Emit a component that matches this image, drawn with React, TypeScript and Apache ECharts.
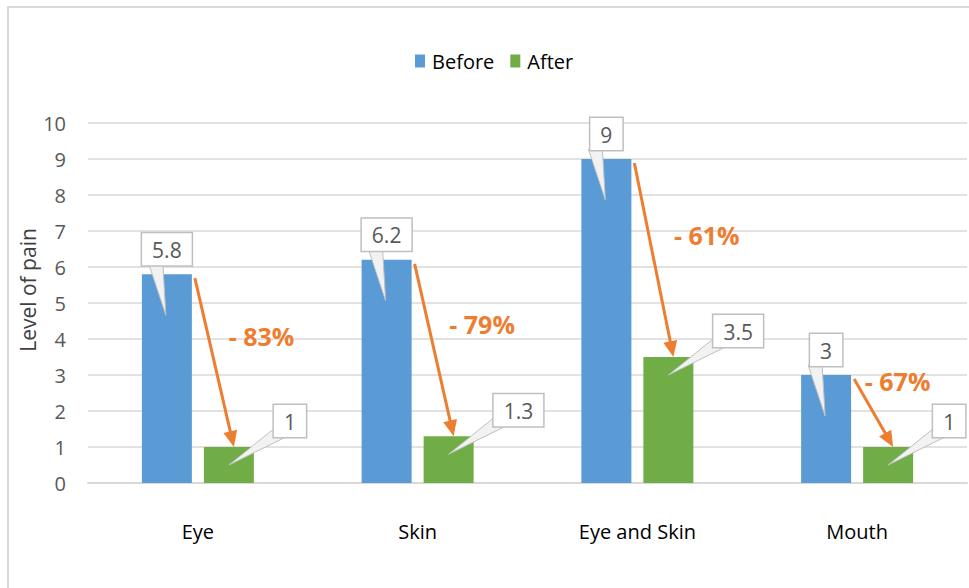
import React, { useEffect, useRef } from "react";
import * as echarts from "echarts";

const categories = ["Eye", "Skin", "Eye and Skin", "Mouth"];
const beforeValues = [5.8, 6.2, 9, 3];
const afterValues = [1, 1.3, 3.5, 1];
const yTicks = [0, 1, 2, 3, 4, 5, 6, 7, 8, 9, 10];

const BLUE = "#5B9BD5";
const GREEN = "#70AD47";
const ORANGE = "#ED7D31";
const FONT = "'Open Sans', sans-serif";

export default function App() {
  const ref = useRef<HTMLDivElement>(null);
  useEffect(() => {
    if (!ref.current) return;
    const chart = echarts.init(ref.current, null, { renderer: "svg" });
    const barW = 50;
    const half = 31;

    const renderItem = (params: any, api: any) => {
      const i = api.value(0);
      const b = api.value(1);
      const a = api.value(2);
      const base = api.coord([i, 0]);
      const c = base[0];
      const yb = api.coord([i, b])[1];
      const ya = api.coord([i, a])[1];
      const bx = c - half;
      const ax = c + half;
      const children: any[] = [];

      // arrow
      const sx = bx + barW / 2 + 3;
      const sy = yb + 4;
      const ex = ax + 5;
      const ey = ya;
      const dx = ex - sx;
      const dy = ey - sy;
      const len = Math.sqrt(dx * dx + dy * dy);
      const ux = dx / len;
      const uy = dy / len;
      const headL = 16;
      const headW = 7;
      const hx = ex - ux * headL;
      const hy = ey - uy * headL;
      children.push({
        type: "line",
        shape: { x1: sx, y1: sy, x2: hx + ux * 2, y2: hy + uy * 2 },
        style: { stroke: ORANGE, lineWidth: 3 },
      });
      children.push({
        type: "polygon",
        shape: {
          points: [
            [ex, ey],
            [hx - uy * headW, hy + ux * headW],
            [hx + uy * headW, hy - ux * headW],
          ],
        },
        style: { fill: ORANGE },
      });
      const pct = Math.round(((a - b) / b) * 100);
      children.push({
        type: "text",
        style: {
          text: "- " + Math.abs(pct) + "%",
          x: sx + 0.23 * dy - 5,
          y: sy + dy * 0.55 - 35,
          align: "left",
          verticalAlign: "middle",
          fontSize: 25,
          fontWeight: "bold",
          fontFamily: FONT,
          fill: ORANGE,
        },
      });

      // before callout
      const bBoxBottom = yb - 9;
      children.push({
        type: "polygon",
        shape: {
          points: [
            [bx - 18, bBoxBottom - 1],
            [bx - 4, bBoxBottom - 1],
            [bx - 1, yb + 41],
          ],
        },
        style: { fill: "#f2f2f2", stroke: "#bfbfbf", lineWidth: 1 },
      });
      children.push({
        type: "text",
        style: {
          text: String(b),
          x: bx,
          y: bBoxBottom,
          align: "center",
          verticalAlign: "bottom",
          fontSize: 21,
          fontFamily: FONT,
          fill: "#595959",
          backgroundColor: "#ffffff",
          borderColor: "#bfbfbf",
          borderWidth: 1.5,
          padding: [6, 10, 5, 10],
        },
      });

      // after callout
      const aBoxBottom = ya - 10;
      const aBoxLeft = ax + 45;
      children.push({
        type: "polygon",
        shape: {
          points: [
            [aBoxLeft + 1, aBoxBottom - 9],
            [aBoxLeft + 14, aBoxBottom - 1],
            [ax, ya + 18],
          ],
        },
        style: { fill: "#f2f2f2", stroke: "#bfbfbf", lineWidth: 1 },
      });
      children.push({
        type: "text",
        style: {
          text: String(a),
          x: aBoxLeft,
          y: aBoxBottom,
          align: "left",
          verticalAlign: "bottom",
          fontSize: 21,
          fontFamily: FONT,
          fill: "#595959",
          backgroundColor: "#ffffff",
          borderColor: "#bfbfbf",
          borderWidth: 1.5,
          padding: [6, 10, 5, 10],
        },
      });

      return { type: "group", children };
    };

    chart.setOption({
      animation: false,
      backgroundColor: "#ffffff",
      textStyle: { fontFamily: FONT },
      graphic: [
        {
          type: "rect",
          shape: { x: 8, y: 7, width: 1000, height: 640 },
          style: { fill: "none", stroke: "#d9d9d9", lineWidth: 2 },
          silent: true,
          z: -10,
        },
      ],
      legend: {
        data: ["Before", "After"],
        left: 410,
        top: 46,
        itemWidth: 10,
        itemHeight: 13,
        itemGap: 16,
        icon: "rect",
        textStyle: { fontSize: 20, color: "#000", fontFamily: FONT, padding: [0, 0, 0, 2] },
      },
      grid: { left: 88, right: 2, top: 123, bottom: 105 },
      xAxis: {
        type: "category",
        data: categories,
        axisLine: { lineStyle: { color: "#d9d9d9", width: 2 } },
        axisTick: { show: false },
        axisLabel: { margin: 38, fontSize: 20, color: "#000", fontFamily: FONT },
      },
      yAxis: {
        type: "value",
        min: yTicks[0],
        max: yTicks[yTicks.length - 1],
        interval: 1,
        name: "Level of pain",
        nameLocation: "middle",
        nameGap: 50,
        nameMoveOverlap: false,
        nameTextStyle: { fontSize: 21, color: "#404040", fontFamily: FONT, padding: [0, 0, 0, 26] },
        axisLine: { show: false },
        axisTick: { show: false },
        axisLabel: { margin: 22, fontSize: 20, color: "#595959", fontFamily: FONT },
        splitLine: { lineStyle: { color: "#d9d9d9", width: 1.5 } },
      },
      series: [
        {
          name: "Before",
          type: "bar",
          data: beforeValues,
          barWidth: barW,
          barGap: "24%",
          itemStyle: { color: BLUE },
        },
        {
          name: "After",
          type: "bar",
          data: afterValues,
          barWidth: barW,
          itemStyle: { color: GREEN },
        },
        {
          name: "annotations",
          type: "custom",
          renderItem,
          clip: false,
          silent: true,
          z: 10,
          encode: { x: 0, y: [1, 2] },
          data: categories.map((_, i) => [i, beforeValues[i], afterValues[i]]),
        },
      ],
    });
    return () => chart.dispose();
  }, []);
  return (
    <div
      ref={ref}
      style={{ position: "absolute", left: 0, top: 0, width: 969, height: 588 }}
    />
  );
}
